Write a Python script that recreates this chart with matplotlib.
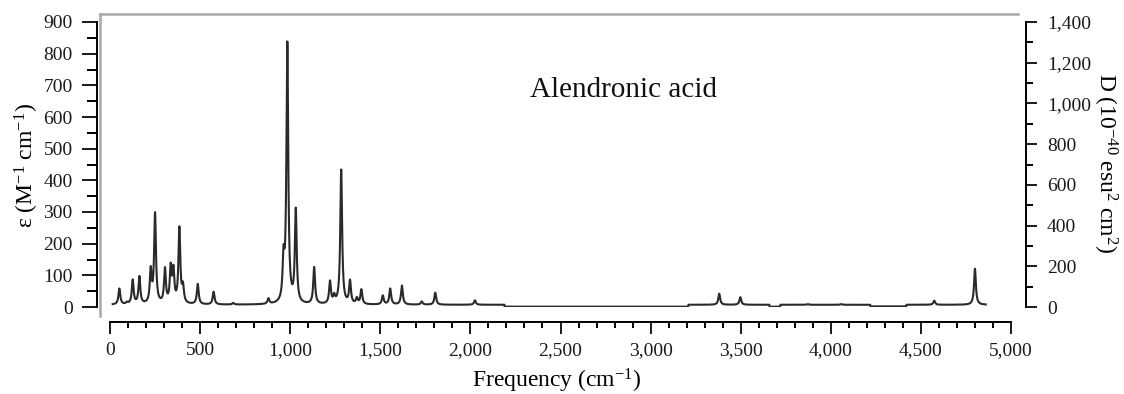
import numpy as np
import matplotlib
matplotlib.use("Agg")
import matplotlib.pyplot as plt
from matplotlib.lines import Line2D
from matplotlib.ticker import MultipleLocator, FuncFormatter

# peak positions (cm-1) and heights (M-1 cm-1)
peak_freq = [52, 94, 126, 163, 226, 250, 305, 337, 352, 385, 405, 487, 575, 684,
             879, 963, 984, 1031, 1133, 1221, 1244, 1283, 1332, 1370, 1395, 1514,
             1555, 1620, 1730, 1805, 2025, 3381, 3498, 3872, 4057, 4574, 4800]
peak_height = [50, 5, 76, 86, 103, 283, 108, 110, 100, 237, 50, 64, 40, 5,
               17, 125, 817, 292, 116, 70, 22, 424, 72, 18, 46, 28,
               50, 60, 10, 38, 14, 35, 24, 2, 2, 13, 114]
fwhm = 12

# stepped baseline of the drawn curve
base_edges = [15, 2190, 3210, 3660, 3720, 4220, 4420, 4860]
base_levels = [7, 1, 7, 1, 7, 2, 7]

plt.rcParams['font.family'] = ['Liberation Serif', 'DejaVu Serif']
plt.rcParams['mathtext.fontset'] = 'custom'
plt.rcParams['mathtext.rm'] = 'Liberation Serif'
plt.rcParams['mathtext.it'] = 'Liberation Serif:italic'

W, H = 1124, 394
fig = plt.figure(figsize=(W / 100, H / 100), dpi=100)
ax = fig.add_axes([110 / W, 1 - 307 / H, 901 / W, 285 / H])

x = np.arange(base_edges[0], base_edges[-1] + 1, 1.0)
idx = np.clip(np.searchsorted(base_edges, x, side='right') - 1, 0, len(base_levels) - 1)
y = np.array(base_levels, dtype=float)[idx]
g = fwhm / 2
for f0, h in zip(peak_freq, peak_height):
    y += h * g**2 / ((x - f0)**2 + g**2)

ax.plot(x, y, color='#2a2a2a', lw=1.5)
ax.set_xlim(0, 5000)
ax.set_ylim(0, 900)

fmt = FuncFormatter(lambda v, p: f'{int(v):,}')
ax.xaxis.set_major_locator(MultipleLocator(500))
ax.xaxis.set_minor_locator(MultipleLocator(100))
ax.yaxis.set_major_locator(MultipleLocator(100))
ax.yaxis.set_minor_locator(MultipleLocator(50))
ax.xaxis.set_major_formatter(fmt)
ax.yaxis.set_major_formatter(fmt)

for s in ['top', 'right']:
    ax.spines[s].set_visible(False)
ax.spines['left'].set_position(('outward', 9.4))
ax.spines['bottom'].set_position(('outward', 10.8))
for s in ['left', 'bottom']:
    ax.spines[s].set_linewidth(1.4)
ax.spines['left'].set_bounds(0, 900)

ax.tick_params(axis='y', which='major', length=10.5, width=1.4, pad=7,
               labelsize=14, colors='#1a1a1a')
ax.tick_params(axis='y', which='minor', length=7.5, width=1.4)
ax.tick_params(axis='x', which='major', length=8.5, width=1.4, pad=6,
               labelsize=14, colors='#1a1a1a')
ax.tick_params(axis='x', which='minor', length=4.5, width=1.4)

ax2 = ax.twinx()
ax2.set_ylim(0, 1400)
for s in ['top', 'left', 'bottom']:
    ax2.spines[s].set_visible(False)
ax2.spines['right'].set_position(('outward', 10.8))
ax2.spines['right'].set_linewidth(1.4)
ax2.yaxis.set_major_locator(MultipleLocator(200))
ax2.yaxis.set_minor_locator(MultipleLocator(100))
ax2.yaxis.set_major_formatter(fmt)
ax2.tick_params(axis='y', which='major', length=8, width=1.4, pad=7,
                labelsize=14, colors='#1a1a1a')
ax2.tick_params(axis='y', which='minor', length=5, width=1.4)

# grey frame lines
fig.add_artist(Line2D([100 / W, 1018 / W], [1 - 14 / H, 1 - 14 / H],
                      color='#a8a8a8', lw=1.8))
fig.add_artist(Line2D([100 / W, 100 / W], [1 - 14 / H, 1 - 316 / H],
                      color='#a8a8a8', lw=1.8))

ax.text(0.466, 0.737, 'Alendronic acid', transform=ax.transAxes,
        fontsize=21, va='baseline', ha='left', color='#111111')

fig.text(27 / W, 1 - 165 / H, r'ε (M$^{-1}$ cm$^{-1}$)', rotation=90,
         ha='center', va='center', fontsize=17)
fig.text(1105 / W, 1 - 163 / H, r'D (10$^{-40}$ esu$^{2}$ cm$^{2}$)', rotation=270,
         ha='center', va='center', fontsize=17)
fig.text(557 / W, 1 - 381 / H, r'Frequency (cm$^{-1}$)',
         ha='center', va='center', fontsize=17)

fig.savefig('out.png', dpi=100)
